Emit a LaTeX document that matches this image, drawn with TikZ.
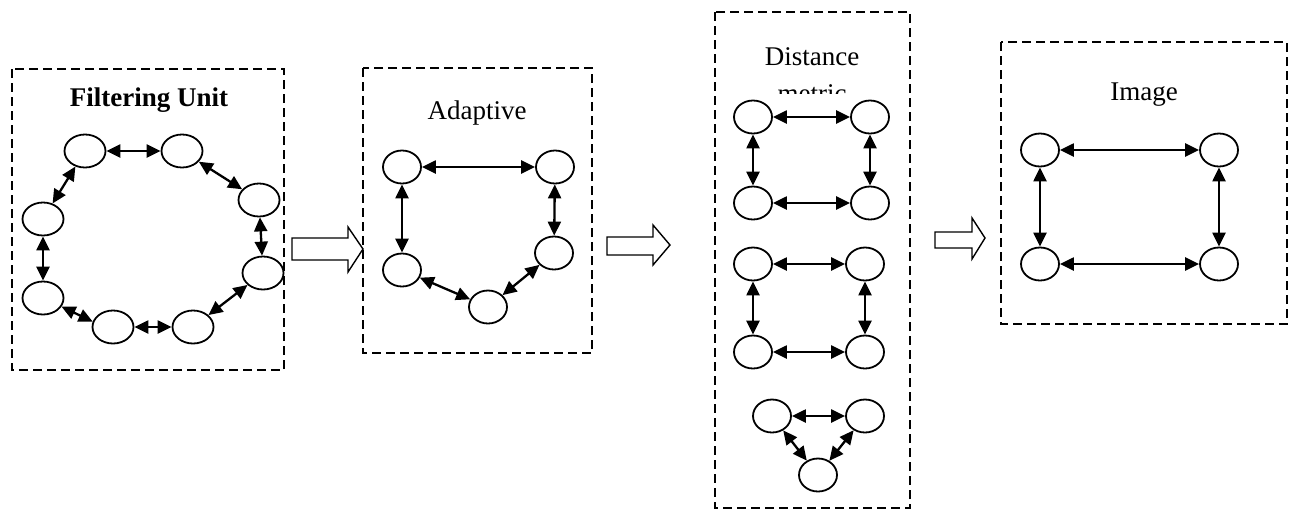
\documentclass[tikz,border=0pt]{standalone}
\usepackage{fontspec}
\setmainfont{Liberation Serif}
\usetikzlibrary{shapes.geometric,arrows.meta}
\tikzset{
  unit/.style={ellipse, draw, line width=0.9pt, inner sep=0pt,
    minimum width=19pt, minimum height=16.5pt},
  link/.style={{Triangle[length=7pt,width=6.5pt]}-{Triangle[length=7pt,width=6.5pt]}, line width=1.15pt},
  frame/.style={line width=0.9pt, dash pattern=on 4.5pt off 2.5pt},
  hollow/.style={line width=0.7pt, fill=white},
  lbl/.style={font=\fontsize{13.5}{16}\selectfont}
}
\begin{document}
\begin{tikzpicture}[x=0.5pt,y=-0.5pt]
    \useasboundingbox (0,0) rectangle (1290,510);
    %% filtering unit
    \draw[frame] (12,69) rectangle (284,370);
    \node[lbl, font=\fontsize{13.5}{16}\selectfont\bfseries] (ftitle) at (149,100) {Filtering Unit};
    \node[unit, minimum width=20.5pt] (f1) at (85,151) {};
    \node[unit, minimum width=20.5pt] (f2) at (182,151) {};
    \node[unit, minimum width=20.5pt] (f3) at (259,200) {};
    \node[unit, minimum width=20.5pt] (f4) at (263,273) {};
    \node[unit, minimum width=20.5pt] (f5) at (193,327) {};
    \node[unit, minimum width=20.5pt] (f6) at (113,327) {};
    \node[unit, minimum width=20.5pt] (f7) at (43,298) {};
    \node[unit, minimum width=20.5pt] (f8) at (43,219) {};
    \draw[link] (f1) -- (f2);
    \draw[link] (f2) -- (f3);
    \draw[link] (f3) -- (f4);
    \draw[link] (f4) -- (f5);
    \draw[link] (f5) -- (f6);
    \draw[link] (f6.165) -- (f7.-25);
    \draw[link] (f7) -- (f8);
    \draw[link] (f8) -- (f1);
    %% first hollow arrow
    \draw[hollow] (292,238) -- (348,238) -- (348,227) -- (363,249) -- (348,272) -- (348,260) -- (292,260) -- cycle;
    %% adaptive
    \draw[frame] (363,68) rectangle (592,353);
    \node[lbl] (atitle) at (477,113) {Adaptive};
    \node[unit] (a1) at (402,167) {};
    \node[unit] (a2) at (555,167) {};
    \node[unit] (a3) at (554,253) {};
    \node[unit] (a4) at (402,270) {};
    \node[unit] (a5) at (488,307) {};
    \draw[link] (a1) -- (a2);
    \draw[link] (a2) -- (a3);
    \draw[link] (a3) -- (a5);
    \draw[link] (a5) -- (a4);
    \draw[link] (a4) -- (a1);
    %% second hollow arrow
    \draw[hollow] (607,237) -- (653,237) -- (653,225) -- (670,245) -- (653,265) -- (653,255) -- (607,255) -- cycle;
    %% distance metric
    \draw[frame] (715,12) rectangle (910,508);
    \node[lbl] (dtitle) at (812,57) {Distance};
    \begin{scope}
      \clip (715,80) rectangle (910,93);
      \node[lbl, anchor=base] (dsub) at (812,102) {metric};
    \end{scope}
    \node[unit] (d1) at (753,117) {};
    \node[unit] (d2) at (870,117) {};
    \node[unit] (d3) at (753,203) {};
    \node[unit] (d4) at (870,203) {};
    \node[unit] (d5) at (753,264) {};
    \node[unit] (d6) at (865,264) {};
    \node[unit] (d7) at (753,352) {};
    \node[unit] (d8) at (865,352) {};
    \node[unit] (d9) at (772,416) {};
    \node[unit] (d10) at (865,416) {};
    \node[unit] (d11) at (818,475) {};
    \draw[link] (d1) -- (d2);
    \draw[link] (d1) -- (d3);
    \draw[link] (d2) -- (d4);
    \draw[link] (d3) -- (d4);
    \draw[link] (d5) -- (d6);
    \draw[link] (d5) -- (d7);
    \draw[link] (d6) -- (d8);
    \draw[link] (d7) -- (d8);
    \draw[link] (d9) -- (d10);
    \draw[link] (d9) -- (d11);
    \draw[link] (d10) -- (d11);
    %% third hollow arrow
    \draw[hollow] (935,232) -- (972,232) -- (972,218) -- (985,238) -- (972,259) -- (972,248) -- (935,248) -- cycle;
    %% image
    \draw[frame] (1001,42) rectangle (1287,324);
    \node[lbl] (ititle) at (1144,95) {Image};
    \node[unit] (i1) at (1040,150) {};
    \node[unit] (i2) at (1219,150) {};
    \node[unit] (i3) at (1040,264) {};
    \node[unit] (i4) at (1219,264) {};
    \draw[link] (i1) -- (i2);
    \draw[link] (i1) -- (i3);
    \draw[link] (i2) -- (i4);
    \draw[link] (i3) -- (i4);
\end{tikzpicture}
\end{document}
